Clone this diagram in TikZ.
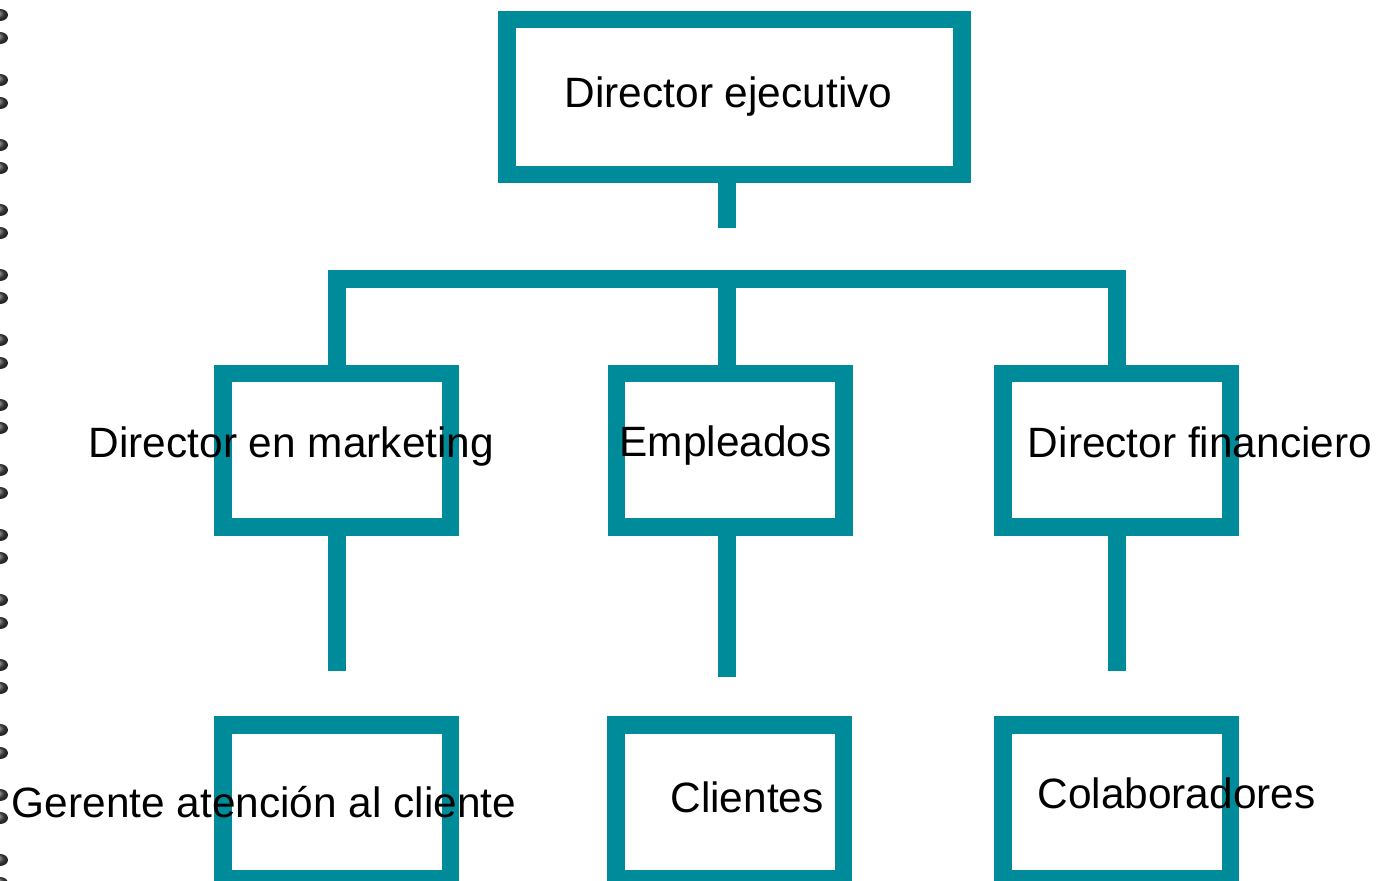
\documentclass[tikz,border=0pt]{standalone}
\usepackage{fontspec}
\setmainfont{Liberation Sans}
\definecolor{azulverde}{RGB}{0,139,154}
\tikzset{
  caja/.style={draw=azulverde, line width=8.75pt, fill=white, rectangle,
    minimum width=113.75pt, minimum height=76.75pt, inner sep=0pt},
  linea/.style={draw=azulverde, line width=8.9pt},
  texto/.style={anchor=base, inner sep=0pt, text=black,
    font=\fontsize{21.2}{25}\selectfont},
}
\begin{document}
\begin{tikzpicture}[x=0.5pt, y=-0.5pt]
    \useasboundingbox (0,0) rectangle (1376,881);

    % Binding dots on the left edge
    \foreach \k in {0,...,13} {
        \shade[ball color=gray!60!black] (0,15+65*\k) ellipse [x radius=4pt, y radius=3pt];
        \shade[ball color=gray!60!black] (0,38+65*\k) ellipse [x radius=4pt, y radius=3pt];
    }

    % Boxes
    \node[caja, minimum width=227.5pt, minimum height=77.5pt] (de) at (734.5,97) {};
    \node[caja] (dm) at (336.5,450.5) {};
    \node[caja] (em) at (730,450.5) {};
    \node[caja] (df) at (1116.5,450.5) {};
    \node[caja] (ge) at (336.5,801.5) {};
    \node[caja] (cl) at (729.5,801.5) {};
    \node[caja] (co) at (1116.5,801.5) {};

    % Connector end points
    \coordinate (t0) at (727,228);
    \coordinate (b1) at (337,279);
    \coordinate (b2) at (727,279);
    \coordinate (b3) at (1117,279);
    \coordinate (s1) at (337,671);
    \coordinate (s2) at (727,677);
    \coordinate (s3) at (1117,671);

    % Connectors
    \draw[linea] (de.south -| t0) -- (t0);
    \draw[linea] (dm.north -| b1) -- (b1) -- (b3) -- (df.north -| b3);
    \draw[linea] (b2) -- (em.north -| b2);
    \draw[linea] (dm.south -| s1) -- (s1);
    \draw[linea] (em.south -| s2) -- (s2);
    \draw[linea] (df.south -| s3) -- (s3);

    % Labels
    \node[texto] (tde) at (728.5,108) {Director ejecutivo};
    \node[texto] (tdm) at (291.5,458) {Director en marketing};
    \node[texto] (tem) at (725.5,457) {Empleados};
    \node[texto] (tdf) at (1200,458) {Director financiero};
    \node[texto] (tge) at (264,817) {Gerente atención al cliente};
    \node[texto] (tcl) at (747,812) {Clientes};
    \node[texto] (tco) at (1176.5,808) {Colaboradores};
\end{tikzpicture}
\end{document}
